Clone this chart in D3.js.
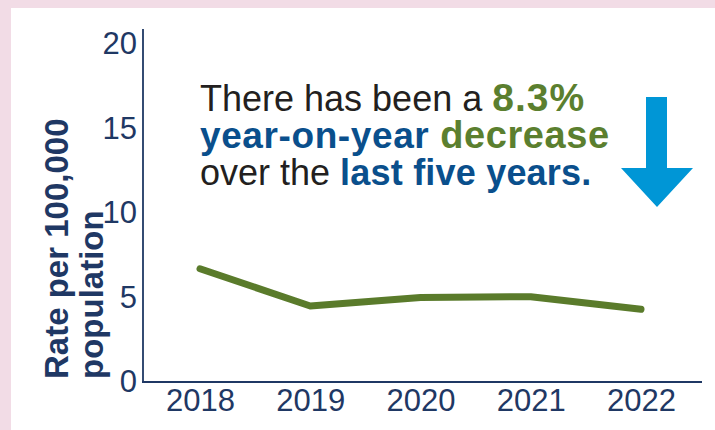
<!DOCTYPE html>
<html>
<head>
<meta charset="utf-8">
<script src="https://cdn.jsdelivr.net/npm/d3@7/dist/d3.min.js"></script>
<style>
  html, body { margin: 0; padding: 0; background: #f2dce6; }
  svg { display: block; }
</style>
</head>
<body>
<svg id="chart" width="715" height="430"></svg>
<script>
const years = ["2018", "2019", "2020", "2021", "2022"];
const rates = [6.7, 4.5, 5.0, 5.05, 4.3];
const yTicks = [0, 5, 10, 15, 20];
const yTitleLines = ["Rate per 100,000", "population"];

const W = 715, H = 430;
const svg = d3.select("#chart");
const font = "'Liberation Sans', Arial, Helvetica, sans-serif";
const navy = "#1f3864";

svg.append("rect").attr("width", W).attr("height", H).attr("fill", "#f2dce6");
svg.append("rect").attr("x", 11).attr("y", 8).attr("width", W - 11).attr("height", H - 8).attr("fill", "#ffffff");

const x = d3.scalePoint().domain(years).range([200, 641]);
const y = d3.scaleLinear().domain([0, 20]).range([382, 44]);

// axis lines
svg.append("line").attr("x1", 143).attr("x2", 143).attr("y1", 29).attr("y2", 382.5)
  .attr("stroke", navy).attr("stroke-width", 1.8);
svg.append("line").attr("x1", 142).attr("x2", 702).attr("y1", 382).attr("y2", 382)
  .attr("stroke", navy).attr("stroke-width", 1.8);

// y axis
const yAxis = svg.append("g").attr("transform", "translate(143,0)")
  .call(d3.axisLeft(y).tickValues(yTicks).tickSize(0).tickPadding(6).tickFormat(d3.format("d")));
yAxis.select(".domain").remove();
yAxis.selectAll("text").attr("font-family", font).attr("font-size", 31).attr("fill", navy);

// x axis
const xAxis = svg.append("g").attr("transform", "translate(0,382)")
  .call(d3.axisBottom(x).tickSize(0).tickPadding(7));
xAxis.select(".domain").remove();
xAxis.selectAll("text").attr("font-family", font).attr("font-size", 31).attr("fill", navy);

// y title
const yt = svg.append("text")
  .attr("transform", "translate(0,379) rotate(-90)")
  .attr("font-family", font).attr("font-weight", "bold").attr("font-size", 33)
  .attr("fill", navy).attr("text-anchor", "start");
yTitleLines.forEach((t, i) => {
  yt.append("tspan").attr("x", 0).attr("y", 68 + i * 35).text(t);
});

// line
const line = d3.line().x((d, i) => x(years[i])).y(d => y(d));
svg.append("path").datum(rates).attr("d", line)
  .attr("fill", "none").attr("stroke", "#5a7b2b").attr("stroke-width", 7)
  .attr("stroke-linecap", "round").attr("stroke-linejoin", "round");

// annotation
const black = "#231f20", blue = "#0a4f8c", green = "#5b7f2f";
const ann = [
  [["There has been a ", black, "normal", 36, 0], ["8.3%", green, "bold", 39, 1]],
  [["year-on-year ", blue, "bold", 37, 0.6], ["decrease", green, "bold", 38, 0.6]],
  [["over the ", black, "normal", 36, 0], ["last five years.", blue, "bold", 36, 0.2]]
];
const annG = svg.append("text").attr("font-family", font);
ann.forEach((parts, i) => {
  parts.forEach((p, j) => {
    const ts = annG.append("tspan").text(p[0]).attr("fill", p[1])
      .attr("font-weight", p[2]).attr("font-size", p[3]).attr("letter-spacing", p[4]);
    if (j === 0) ts.attr("x", 200).attr("y", 111 + i * 37);
  });
});

// arrow
svg.append("path")
  .attr("d", "M646,97 L667,97 L667,168 L693,168 L657,207 L621,168 L646,168 Z")
  .attr("fill", "#0096d6");
</script>
</body>
</html>
